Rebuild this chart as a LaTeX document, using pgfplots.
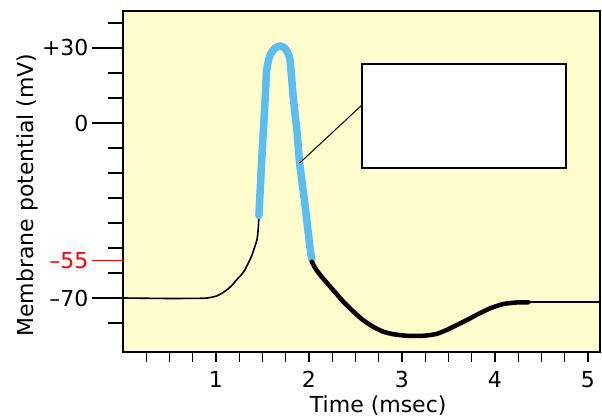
\documentclass[border=0pt]{standalone}
\usepackage{pgfplots}
\pgfplotsset{compat=1.18}
\usepackage{fontspec}
\setmainfont{DejaVu Sans}
\definecolor{bgyellow}{RGB}{255,253,206}
\definecolor{apblue}{RGB}{90,190,240}
\begin{document}
\begin{tikzpicture}
\useasboundingbox (-123pt,-67pt) rectangle (479pt,352pt);
\pgfplotsset{
  common/.style={
    at={(0,0)}, anchor=south west,
    scale only axis, width=477pt, height=341pt,
    xmin=0, xmax=5.13, ymin=-91.6, ymax=44.8,
    axis line style={line width=1.6pt, black},
    tick align=outside,
    tick style={black, line width=1.3pt},
    tick label style={font=\fontsize{22}{26}\selectfont},
    label style={font=\fontsize{22}{26}\selectfont},
    /pgf/number format/assume math mode=true,
  }
}
\begin{axis}[common,
  axis background/.style={fill=bgyellow},
  xtick={1,2,3,4,5},
  minor xtick={0.25,0.5,...,5},
  xtick pos=left,
  ytick=\empty,
  major tick length=10pt, minor tick length=10pt,
  xticklabel style={yshift=-6pt},
  xlabel={Time (msec)},
  xlabel style={at={(axis description cs:0.535,-0.157)}, anchor=center},
]
% resting and rising phase (thin black)
\addplot[black, line width=1.6pt, smooth, tension=0.35, line cap=round] coordinates {
  (0,-70) (0.5,-70.2) (0.863,-70.1) (0.94,-69.8) (1.007,-69.2) (1.06,-68.2)
  (1.115,-66.8) (1.17,-65) (1.22,-62.8) (1.27,-60.8) (1.31,-58.8)
  (1.38,-53.5) (1.44,-46.8) (1.455,-42) (1.462,-37)
};
% action potential (blue)
\addplot[apblue, line width=7.5pt, smooth, tension=0.4, line cap=round] coordinates {
  (1.462,-37) (1.49,-16) (1.51,-2.8) (1.53,10.5) (1.545,21) (1.58,27)
  (1.634,29.9) (1.69,30.8) (1.74,29.9) (1.79,26.5) (1.81,19.8)
  (1.83,10.5) (1.87,-2.8) (1.90,-16) (1.96,-33.5) (2.01,-49.5) (2.03,-54.5)
};
% repolarisation / hyperpolarisation (thick black)
\addplot[black, line width=4.5pt, smooth, tension=0.35, line cap=round] coordinates {
  (2.03,-55.5) (2.08,-58.8) (2.15,-62.1) (2.26,-66.8) (2.37,-71.5)
  (2.48,-75.5) (2.58,-78.8) (2.69,-81.5) (2.80,-83.5) (2.91,-84.5)
  (3.05,-85.1) (3.23,-85.1) (3.37,-84.4) (3.48,-82.8) (3.59,-80.8)
  (3.70,-78.8) (3.80,-76.8) (3.95,-74.1) (4.09,-72.4) (4.23,-71.8) (4.36,-71.7)
};
% return to rest (thin black)
\addplot[black, line width=1.6pt] coordinates {(4.36,-71.7) (5.13,-71.7)};
% annotation box and pointer
\draw[black, line width=1pt] (axis cs:1.90,-16) -- (axis cs:2.57,7.2);
\draw[black, fill=white, line width=1.8pt] (axis cs:2.57,23.6) rectangle (axis cs:4.76,-18);
\end{axis}
\begin{axis}[common,
  xtick=\empty,
  ytick={-70,0,30},
  yticklabels={\textendash70,0,+30},
  minor ytick={-80,-60,-50,-40,-30,-20,-10,10,20,40},
  ytick pos=left,
  major tick length=31pt, minor tick length=15pt,
  extra y ticks={-55},
  extra y tick labels={\textendash55},
  extra y tick style={tick style={red, line width=1.3pt}, tick label style={red}},
  ylabel={Membrane potential (mV)},
  ylabel style={at={(axis description cs:-0.201,0.46)}, anchor=center, rotate=0},
]
\end{axis}
\end{tikzpicture}
\end{document}
